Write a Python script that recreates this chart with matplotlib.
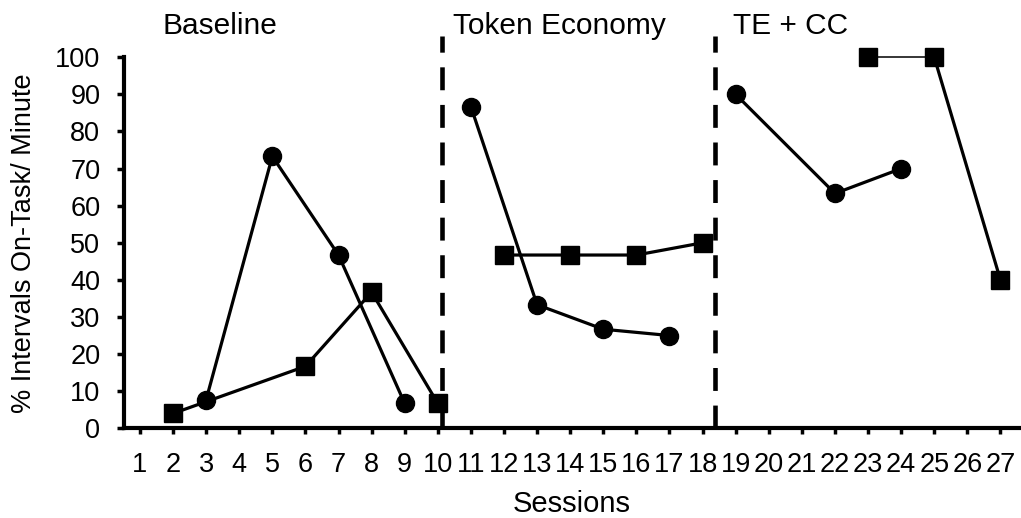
import matplotlib
matplotlib.use("Agg")
import matplotlib.pyplot as plt

plt.rcParams['font.family'] = ['Liberation Sans', 'DejaVu Sans']

# Data (% intervals on-task per minute)
sessions = list(range(1, 28))
phase_names = ["Baseline", "Token Economy", "TE + CC"]
phase_label_x = [1.69, 10.46, 18.92]
phase_lines = [10.12, 18.37]

# circle series
circ_base_x = [3, 5, 7, 9]
circ_base_y = [7.7, 73.3, 46.7, 6.7]
circ_te_x = [11, 13, 15, 17]
circ_te_y = [86.7, 33.3, 26.7, 25.0]
circ_cc_x = [19, 22, 24]
circ_cc_y = [90.0, 63.3, 70.0]

# square series
sq_base_x = [2, 6, 8, 10]
sq_base_y = [4.0, 16.7, 36.7, 6.7]
sq_te_x = [12, 14, 16, 18]
sq_te_y = [46.7, 46.7, 46.7, 50.0]
sq_cc_x = [23, 25, 27]
sq_cc_y = [100.0, 100.0, 40.0]

fig = plt.figure(figsize=(10.21, 5.18), dpi=100)
ax = fig.add_axes([0.1214, 0.1732, 0.8776, 0.7162])

lw = 2.3
circ_style = dict(color='black', marker='o', markersize=13, lw=lw, clip_on=False, zorder=4)
sq_style = dict(color='black', marker='s', markersize=13, lw=lw, clip_on=False, zorder=4)

ax.plot(circ_base_x, circ_base_y, **circ_style)
ax.plot(circ_te_x, circ_te_y, **circ_style)
ax.plot(circ_cc_x, circ_cc_y, **circ_style)

ax.plot(sq_base_x, sq_base_y, **sq_style)
ax.plot(sq_te_x, sq_te_y, **sq_style)
# TE + CC squares: thin line between the first two, normal line after
ax.plot(sq_cc_x, sq_cc_y, color='black', marker='s', markersize=13, lw=0, clip_on=False, zorder=5)
ax.plot(sq_cc_x[:2], sq_cc_y[:2], color='black', lw=1.1, clip_on=False, zorder=4)
ax.plot(sq_cc_x[1:], sq_cc_y[1:], color='black', lw=lw, clip_on=False, zorder=4)

# phase change lines
for xv in phase_lines:
    ax.plot([xv, xv], [0, 105.8], color='black', lw=3.3,
            linestyle=(0, (5.0, 3.2)), clip_on=False, zorder=3)

for name, xv in zip(phase_names, phase_label_x):
    ax.text(xv, 106.3, name, fontsize=21.5, ha='left', va='baseline', clip_on=False)

ax.set_xlim(0.517, 27.59)
ax.set_ylim(0, 100)
ax.set_xticks(sessions)
ax.set_xticklabels([str(s) for s in sessions])
ax.set_yticks(range(0, 101, 10))

for side in ['top', 'right']:
    ax.spines[side].set_visible(False)
for side in ['left', 'bottom']:
    ax.spines[side].set_linewidth(3.0)

ax.tick_params(axis='x', direction='out', length=4, width=2.5, pad=13, labelsize=19.5)
ax.tick_params(axis='y', direction='out', length=5, width=2.5, pad=12, labelsize=19.5)

ax.set_xlabel("Sessions", fontsize=21, labelpad=9)
ax.set_ylabel("% Intervals On-Task/ Minute", fontsize=19.5, labelpad=13)

fig.savefig("out.png", dpi=100)
